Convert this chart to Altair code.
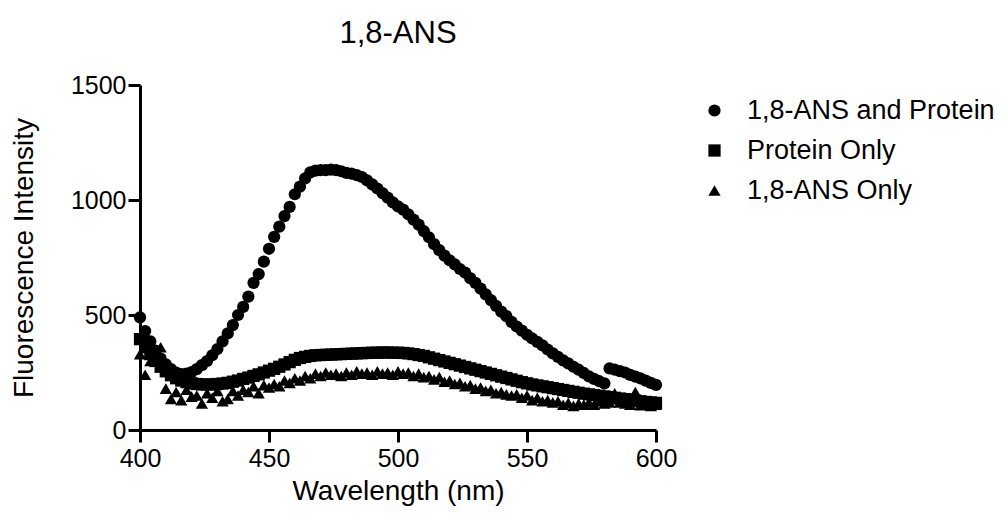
import altair as alt
import pandas as pd

wavelength = list(range(400, 601, 2))

ans_protein = [
    490, 430, 385, 345, 310, 285, 265, 250, 243, 245,
    252, 265, 282, 300, 325, 352, 385, 420, 456, 500,
    535, 580, 640, 678, 732, 788, 840, 884, 930, 970,
    1025, 1058, 1094, 1120, 1128, 1130, 1130, 1132, 1130, 1125,
    1118, 1115, 1108, 1100, 1085, 1068, 1050, 1030, 1010, 990,
    972, 958, 938, 915, 893, 865, 838, 808, 782, 758,
    738, 720, 700, 684, 660, 640, 615, 590, 565, 540,
    515, 495, 470, 450, 432, 414, 398, 383, 368, 350,
    333, 318, 303, 290, 275, 262, 248, 233, 222, 212,
    203, 268, 262, 256, 250, 240, 232, 224, 215, 205,
    196,
]

protein_only = [
    395, 360, 330, 300, 275, 255, 238, 225, 215, 208,
    203, 200, 198, 198, 198, 200, 202, 205, 210, 215,
    222, 228, 235, 242, 250, 258, 266, 275, 285, 295,
    305, 313, 318, 322, 325, 326, 327, 328, 329, 330,
    331, 332, 333, 334, 335, 336, 336, 337, 337, 336,
    336, 335, 333, 330, 326, 322, 316, 310, 304, 298,
    292, 286, 280, 274, 268, 262, 256, 250, 244, 238,
    232, 226, 220, 214, 208, 203, 198, 194, 190, 186,
    182, 178, 174, 170, 166, 162, 158, 155, 152, 149,
    146, 143, 140, 137, 134, 131, 128, 125, 122, 120,
    118,
]

ans_only = [
    330, 240, 300, 330, 360, 180, 135, 165, 130, 175,
    145, 150, 115, 160, 140, 170, 125, 135, 170, 150,
    175, 165, 190, 160, 195, 185, 200, 190, 215, 205,
    225, 215, 235, 225, 245, 235, 250, 240, 245, 235,
    250, 240, 255, 245, 250, 240, 255, 245, 250, 240,
    255, 245, 250, 235, 245, 230, 235, 220, 230, 210,
    215, 200, 205, 190, 195, 180, 185, 170, 175, 160,
    165, 155, 150, 155, 140, 150, 130, 140, 125, 130,
    120, 125, 110, 118, 105, 115, 110, 120, 110, 125,
    115, 120, 160, 120, 115, 110, 165, 108, 112, 105,
    110,
]

series_names = ["1,8-ANS and Protein", "Protein Only", "1,8-ANS Only"]
shapes = ["circle", "square", "triangle-up"]

rows = []
for name, vals in zip(series_names, [ans_protein, protein_only, ans_only]):
    for w, v in zip(wavelength, vals):
        rows.append({"Wavelength": w, "Intensity": v, "Series": name})
df = pd.DataFrame(rows)

FONT = "Liberation Sans"

chart = alt.Chart(df).mark_point(filled=True, opacity=1, size=150, color="black").encode(
    x=alt.X("Wavelength:Q",
            scale=alt.Scale(domain=[400, 600], nice=False, zero=False),
            axis=alt.Axis(values=[400, 450, 500, 550, 600], title="Wavelength (nm)",
                          format="d", labelFlush=False, labelPadding=4, titlePadding=6)),
    y=alt.Y("Intensity:Q",
            scale=alt.Scale(domain=[0, 1500], nice=False),
            axis=alt.Axis(values=[0, 500, 1000, 1500], title="Fluorescence Intensity",
                          format="d", labelFlush=False, labelPadding=2, titlePadding=32)),
    shape=alt.Shape("Series:N",
                    scale=alt.Scale(domain=series_names, range=shapes),
                    legend=alt.Legend(title=None, orient="none", legendX=561, legendY=12,
                                      labelFontSize=27, labelFont=FONT, labelColor="black",
                                      labelLimit=0,
                                      symbolSize=150, symbolFillColor="black",
                                      symbolStrokeColor="black", symbolStrokeWidth=0,
                                      labelOffset=19, rowPadding=12, padding=0)),
).properties(
    width=516,
    height=345,
    title=alt.Title("1,8-ANS", fontSize=31, font=FONT, fontWeight="normal",
                    color="black", anchor="middle", offset=23),
    autosize=alt.AutoSizeParams(type="none"),
    padding={"left": 132, "top": 77, "right": 344, "bottom": 82},
).configure_view(
    stroke=None
).configure_axis(
    grid=False,
    domainColor="black", domainWidth=3,
    tickColor="black", tickWidth=3, tickSize=12,
    labelColor="black", labelFontSize=25, labelFont=FONT,
    titleColor="black", titleFontSize=28, titleFont=FONT, titleFontWeight="normal",
)

chart.save("out.html", embed_options={"renderer": "svg", "actions": False})
